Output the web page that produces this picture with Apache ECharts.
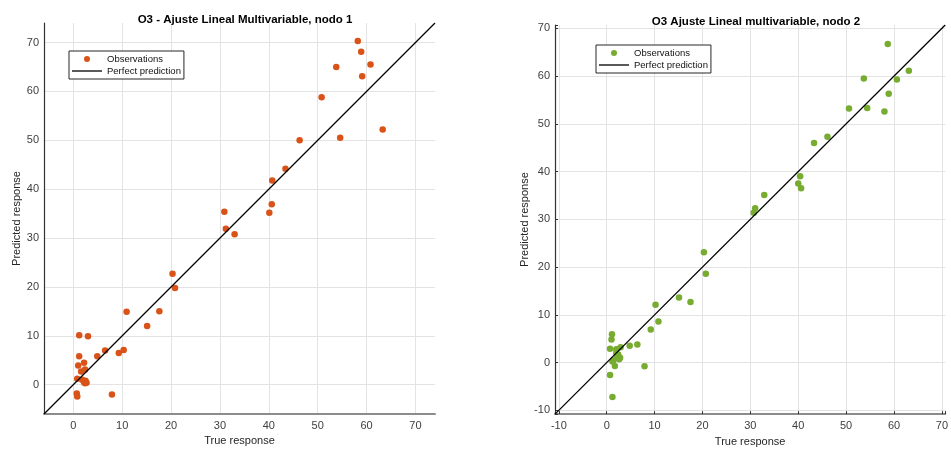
<!DOCTYPE html>
<html>
<head>
<meta charset="utf-8">
<script src="https://cdn.jsdelivr.net/npm/echarts@6/dist/echarts.min.js"></script>
<style>
  html, body { margin: 0; padding: 0; background: #fff; }
  #chart { width: 951px; height: 452px; }
</style>
</head>
<body>
<div id="chart"></div>
<script>
// Node 1: true vs predicted O3 (linear multivariable fit)
const nodo1True = [58.2, 58.9, 53.8, 60.8, 59.1, 50.8, 63.3, 54.6, 46.3, 43.4, 40.7, 40.6, 40.1, 30.9, 31.2, 33.0,
  20.3, 20.8, 10.9, 17.6, 15.1, 10.3, 9.3, 6.5, 4.9, 7.9,
  1.2, 3.0, 1.2, 1.0, 2.2, 1.6, 2.4, 0.8, 1.8, 2.2, 2.5, 2.7, 2.4, 0.7, 0.8];
const nodo1Pred = [70.3, 68.1, 65.0, 65.5, 63.1, 58.8, 52.2, 50.5, 50.0, 44.2, 41.8, 36.9, 35.2, 35.4, 31.9, 30.8,
  22.7, 19.8, 14.9, 15.0, 12.0, 7.1, 6.5, 7.0, 5.8, -2.0,
  10.1, 9.9, 5.8, 3.9, 4.5, 2.7, 3.1, 1.2, 1.0, 0.5, 0.8, 0.4, 0.3, -1.8, -2.4];

// Node 2: true vs predicted O3
const nodo2True = [58.7, 53.7, 60.6, 63.1, 58.9, 50.6, 54.4, 58.0, 46.1, 43.3, 40.4, 40.0, 40.6, 32.9, 31.0, 30.7,
  20.3, 20.7, 15.1, 17.5, 10.2, 10.8, 9.2, 6.4, 4.8, 7.9,
  1.1, 1.0, 0.7, 2.0, 2.9, 2.4, 2.6, 1.4, 1.7, 0.7, 1.2, 2.2, 2.0, 1.2, 2.8];
const nodo2Pred = [66.7, 59.5, 59.3, 61.1, 56.3, 53.2, 53.3, 52.6, 47.3, 46.0, 39.0, 37.5, 36.5, 35.1, 32.3, 31.4,
  23.1, 18.6, 13.6, 12.7, 12.1, 8.6, 6.9, 3.8, 3.5, -0.8,
  5.9, 4.8, 2.9, 2.8, 3.2, 1.7, 0.7, 0.5, -0.7, -2.6, -7.2, 1.2, 2.0, 0.2, 1.0];

// Axis limits of each panel (equal on x and y)
const limits1 = [-6, 74];
const limits2 = [-10.8, 70.7];
const tickStep = 10;

const titles = ['O3 - Ajuste Lineal Multivariable, nodo 1', 'O3 Ajuste Lineal multivariable, nodo 2'];
const legendNames = ['Observations', 'Perfect prediction'];
const axisNames = ['True response', 'Predicted response'];

const FONT = '"Liberation Sans", Arial, Helvetica, sans-serif';
const COLOR1 = '#D95319';
const COLOR2 = '#77AC30';
// thin horizontal bar used as the legend glyph of the reference line
const LINE_ICON = 'path://M0,0H30V1.3H0Z';

function pairs(xs, ys) { return xs.map((x, i) => [x, ys[i]]); }

function tickFormatter(v) {
  return Math.abs(v / tickStep - Math.round(v / tickStep)) < 1e-6 ? String(Math.round(v)) : '';
}

function makeAxis(idx, lim, isX, withTicks, nameGap) {
  return {
    type: 'value',
    gridIndex: idx,
    min: lim[0], max: lim[1],
    splitNumber: 8,
    minInterval: tickStep, maxInterval: tickStep,
    name: isX ? axisNames[0] : axisNames[1],
    nameLocation: 'middle',
    nameGap: nameGap,
    nameTextStyle: { fontFamily: FONT, fontSize: 11, color: '#262626' },
    axisLine: {
      show: true, onZero: false,
      lineStyle: isX ? { color: '#8c8c8c', width: 2 } : { color: '#333', width: 1.2 }
    },
    axisTick: { show: withTicks, inside: true, length: 3, lineStyle: { color: '#333', width: 1 } },
    axisLabel: {
      fontFamily: FONT, fontSize: 11, color: '#404040',
      margin: isX ? 6 : 5,
      formatter: tickFormatter
    },
    splitLine: { show: true, showMinLine: false, showMaxLine: false, lineStyle: { color: '#e3e3e3', width: 1 } }
  };
}

const chart = echarts.init(document.getElementById('chart'), null, { renderer: 'canvas' });

const legendBase = {
  orient: 'vertical',
  backgroundColor: '#fff',
  borderColor: '#262626',
  borderWidth: 1,
  borderRadius: 0,
  padding: [2, 3, 2, 3],
  itemGap: 0,
  itemWidth: 30,
  itemHeight: 6,
  selectedMode: false,
  textStyle: { fontFamily: FONT, fontSize: 9.5, color: '#111', lineHeight: 12 }
};

function legendItems(color) {
  return [
    { name: legendNames[0], icon: 'circle', itemStyle: { color: color } },
    { name: legendNames[1], icon: LINE_ICON, itemStyle: { color: '#000', borderWidth: 0 } }
  ];
}

chart.setOption({
  animation: false,
  backgroundColor: '#fff',
  title: [
    { text: titles[0], left: 240, top: 9, textAlign: 'center',
      textStyle: { fontFamily: FONT, fontSize: 11.5, fontWeight: 'bold', color: '#000' } },
    { text: titles[1], left: 751, top: 11, textAlign: 'center',
      textStyle: { fontFamily: FONT, fontSize: 11.5, fontWeight: 'bold', color: '#000' } }
  ],
  legend: [
    Object.assign({}, legendBase, { left: 69, top: 51, data: legendItems(COLOR1) }),
    Object.assign({}, legendBase, { left: 596, top: 45, data: legendItems(COLOR2) })
  ],
  grid: [
    { left: 44, top: 23, width: 391, height: 391 },
    { left: 555, top: 25, width: 392, height: 392 }
  ],
  xAxis: [
    makeAxis(0, limits1, true, false, 21),
    makeAxis(1, limits2, true, true, 20)
  ],
  yAxis: [
    makeAxis(0, limits1, false, false, 21),
    makeAxis(1, limits2, false, true, 24)
  ],
  series: [
    {
      name: legendNames[0], type: 'scatter', xAxisIndex: 0, yAxisIndex: 0,
      symbolSize: 6.5, itemStyle: { color: COLOR1, opacity: 1 },
      data: pairs(nodo1True, nodo1Pred), z: 2
    },
    {
      name: legendNames[1], type: 'line', xAxisIndex: 0, yAxisIndex: 0,
      symbol: 'none', itemStyle: { color: '#000' }, lineStyle: { color: '#000', width: 1.3 },
      data: [[limits1[0], limits1[0]], [limits1[1], limits1[1]]], z: 3
    },
    {
      name: legendNames[0], type: 'scatter', xAxisIndex: 1, yAxisIndex: 1,
      symbolSize: 6.5, itemStyle: { color: COLOR2, opacity: 1 },
      data: pairs(nodo2True, nodo2Pred), z: 2
    },
    {
      name: legendNames[1], type: 'line', xAxisIndex: 1, yAxisIndex: 1,
      symbol: 'none', itemStyle: { color: '#000' }, lineStyle: { color: '#000', width: 1.3 },
      data: [[limits2[0], limits2[0]], [limits2[1], limits2[1]]], z: 3
    }
  ]
});
</script>
</body>
</html>
